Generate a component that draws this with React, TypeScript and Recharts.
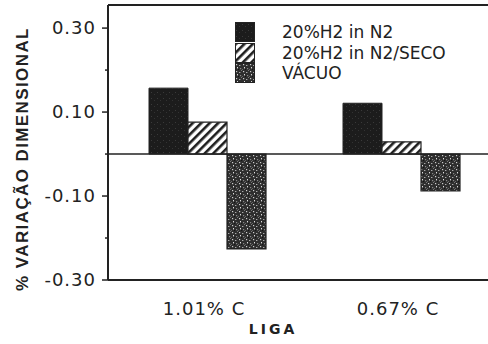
import React from "react";
import { BarChart, Bar, XAxis, YAxis, ReferenceLine, Legend } from "recharts";

const CATEGORIES = ["1.01% C", "0.67% C"];
const H2_N2 = [0.157, 0.121];
const H2_N2_SECO = [0.076, 0.029];
const VACUO = [-0.226, -0.088];
const Y_TICKS = [-0.3, -0.2, -0.1, 0, 0.1, 0.2, 0.3];
const Y_LABELED = [-0.3, -0.1, 0.1, 0.3];
const SERIES_NAMES = ["20%H2 in N2", "20%H2 in N2/SECO", "VÁCUO"];

const data = CATEGORIES.map((liga, i) => ({
  liga,
  h2n2: H2_N2[i],
  seco: H2_N2_SECO[i],
  vacuo: VACUO[i],
}));

const INK = "#222";
const TICK_FONT = "'DejaVu Sans', sans-serif";

function YTick(props: any) {
  const { x, y, payload } = props;
  const major = Y_LABELED.some((v) => Math.abs(v - payload.value) < 1e-6);
  return (
    <g>
      <line x1={x + (major ? 6 : 9)} x2={x + 12} y1={y} y2={y} stroke={INK} strokeWidth={1.5} />
      {major && (
        <text
          x={x}
          y={y}
          dy={6}
          textAnchor="end"
          fontSize={18}
          letterSpacing={1}
          fontFamily={TICK_FONT}
          fill={INK}
        >
          {payload.value.toFixed(2)}
        </text>
      )}
    </g>
  );
}

function XTick(props: any) {
  const { x, y, payload } = props;
  return (
    <text
      x={x}
      y={y}
      dx={-4}
      dy={12}
      textAnchor="middle"
      fontSize={18}
      letterSpacing={1}
      fontFamily={TICK_FONT}
      fill={INK}
    >
      {payload.value}
    </text>
  );
}

const swatchFills = ["url(#solidDark)", "url(#hatch)", "url(#speckle)"];

function LegendBox() {
  return (
    <div style={{ display: "flex", flexDirection: "column" }}>
      {SERIES_NAMES.map((name, i) => (
        <div key={name} style={{ display: "flex", alignItems: "center", height: 20.5 }}>
          <svg width={20} height={20} style={{ display: "block" }}>
            <rect x={0.5} y={0.5} width={19} height={19} fill={swatchFills[i]} stroke={INK} strokeWidth={1} />
          </svg>
          <span
            style={{
              marginLeft: 27,
              fontFamily: TICK_FONT,
              fontSize: 17,
              color: INK,
              whiteSpace: "nowrap",
              lineHeight: "20px",
            }}
          >
            {name}
          </span>
        </div>
      ))}
    </div>
  );
}

export default function App() {
  return (
    <div
      style={{
        position: "absolute",
        left: 0,
        top: 0,
        width: 488,
        height: 344,
        overflow: "hidden",
        background: "#fff",
      }}
    >
      <BarChart
        width={510}
        height={344}
        data={data}
        margin={{ top: 5, right: 8, bottom: 24, left: 0 }}
        barCategoryGap={38}
        barGap={0}
      >
        <defs>
          <pattern id="solidDark" width="6" height="6" patternUnits="userSpaceOnUse">
            <rect width="6" height="6" fill="#1c1c1c" />
            <rect x="1" y="2" width="1" height="1" fill="#3a3a3a" />
            <rect x="4" y="4" width="1" height="1" fill="#333" />
          </pattern>
          <pattern id="hatch" width="6" height="6" patternUnits="userSpaceOnUse" patternTransform="rotate(45)">
            <rect width="6" height="6" fill="#fff" />
            <rect width="2.6" height="6" fill="#1e1e1e" />
          </pattern>
          <pattern id="speckle" width="7" height="7" patternUnits="userSpaceOnUse">
            <rect width="7" height="7" fill="#2e2e2e" />
            <rect x="1" y="1" width="1.2" height="1.2" fill="#ccc" />
            <rect x="4" y="2" width="1.4" height="1" fill="#aaa" />
            <rect x="2" y="4" width="1" height="1.4" fill="#ddd" />
            <rect x="5" y="5" width="1.2" height="1.2" fill="#888" />
            <rect x="0" y="6" width="1" height="1" fill="#666" />
            <rect x="6" y="0" width="1" height="1" fill="#777" />
            <rect x="3" y="6" width="1" height="1" fill="#151515" />
          </pattern>
        </defs>
        <XAxis
          dataKey="liga"
          height={40}
          padding={{ left: 3, right: 3 }}
          axisLine={{ stroke: INK, strokeWidth: 2 }}
          tickLine={false}
          tickSize={6}
          tickMargin={17}
          tick={<XTick />}
          label={(p: any) => (
            <text
              x={273}
              y={334}
              textAnchor="middle"
              fontSize={14}
              fontWeight="bold"
              letterSpacing={3}
              fontFamily={TICK_FONT}
              fill={INK}
            >
              LIGA
            </text>
          )}
        />
        <YAxis
          width={108}
          domain={[-0.3, 0.355]}
          ticks={Y_TICKS}
          interval={0}
          axisLine={{ stroke: INK, strokeWidth: 2 }}
          tickLine={false}
          tickSize={6}
          tickMargin={6}
          tick={<YTick />}
          label={(p: any) => (
            <text
              x={22}
              y={159}
              transform="rotate(-90 22 159)"
              textAnchor="middle"
              dominantBaseline="central"
              fontSize={17}
              fontWeight="bold"
              letterSpacing={1.4}
              fontFamily="'Liberation Sans', Arial, sans-serif"
              fill={INK}
            >
              % VARIAÇÃO DIMENSIONAL
            </text>
          )}
        />
        <ReferenceLine y={0.355} stroke={INK} strokeWidth={2} />
        <ReferenceLine y={0} stroke={INK} strokeWidth={1.5} />
        <Legend
          layout="horizontal"
          verticalAlign="middle"
          align="center"
          content={() => <LegendBox />}
          wrapperStyle={{ left: 235, top: 22, width: 250, height: 62 }}
        />
        <Bar dataKey="h2n2" name={SERIES_NAMES[0]} fill="url(#solidDark)" stroke={INK} strokeWidth={1} isAnimationActive={false} />
        <Bar dataKey="seco" name={SERIES_NAMES[1]} fill="url(#hatch)" stroke={INK} strokeWidth={1.2} isAnimationActive={false} />
        <Bar dataKey="vacuo" name={SERIES_NAMES[2]} fill="url(#speckle)" stroke={INK} strokeWidth={1.2} isAnimationActive={false} />
      </BarChart>
    </div>
  );
}
